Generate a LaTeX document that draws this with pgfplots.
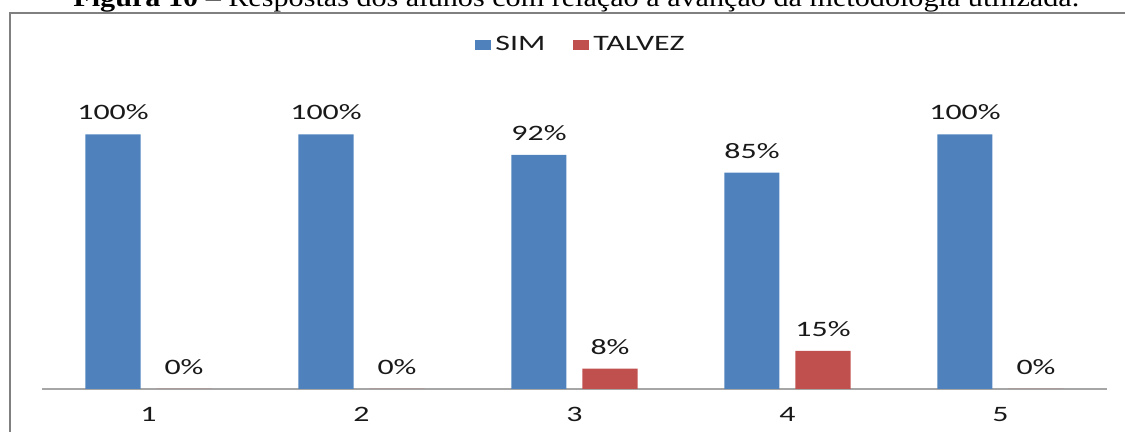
\documentclass[border=0pt]{standalone}
\usepackage{pgfplots}
\pgfplotsset{compat=1.18}
\usepackage{fontspec}
\newfontfamily\chartfont[FakeStretch=1.45]{Carlito}
\newfontfamily\titlefont[FakeStretch=1.16]{Liberation Serif}
\definecolor{simblue}{HTML}{4F81BD}
\definecolor{talvezred}{HTML}{C0504D}
\definecolor{axisgray}{HTML}{A6A6A6}
\definecolor{framegray}{HTML}{808080}
\begin{document}
\begin{tikzpicture}
\path[use as bounding box, clip] (0,0) rectangle (562.5pt,216pt);
\draw[framegray, line width=1pt] (5pt,-2pt) -- (5pt,209.25pt) -- (570pt,209.25pt);
\node[anchor=base west, inner sep=0pt, font=\titlefont\fontsize{13}{15}\selectfont] at (36.5pt,212.75pt)
  {\textbf{Figura 10} – Respostas dos alunos com relação à avanção da metodologia utilizada.};
\begin{axis}[
  at={(21pt,21.5pt)}, anchor=south west,
  scale only axis, width=532.5pt, height=140pt,
  xmin=0.5, xmax=5.5, ymin=0, ymax=110,
  ybar=8pt, bar width=27.5pt,
  axis x line*=bottom, axis y line=none,
  x axis line style={-, draw=axisgray, line width=1pt},
  xtick={1,2,3,4,5}, xticklabels={1,2,3,4,5},
  major tick length=0pt,
  xticklabel style={font=\chartfont\fontsize{11}{13}\selectfont, inner sep=0pt, yshift=-9pt, text=black!90},
  ytick=\empty,
  clip=false,
  nodes near coords={\pgfmathprintnumber[assume math mode=true]{\pgfplotspointmeta}\%},
  every node near coord/.append style={font=\chartfont\fontsize{11}{13}\selectfont, inner sep=0pt, yshift=7pt, text=black!90},
  legend columns=-1,
  legend style={draw=none, fill=none, at={(0.507,1.228)}, anchor=center,
    font=\chartfont\fontsize{11}{13}\selectfont, text=black!90,
    /tikz/every even column/.append style={column sep=12pt}},
  legend image code/.code={\fill[#1] (-2.5pt,-2.5pt) rectangle (5.5pt,2.5pt);},
]
\addplot[fill=simblue, draw=none] coordinates {(1,100) (2,100) (3,92) (4,85) (5,100)};
\addplot[fill=talvezred, draw=none] coordinates {(1,0) (2,0) (3,8) (4,15) (5,0)};
\legend{SIM, TALVEZ}
\end{axis}
\end{tikzpicture}
\end{document}
